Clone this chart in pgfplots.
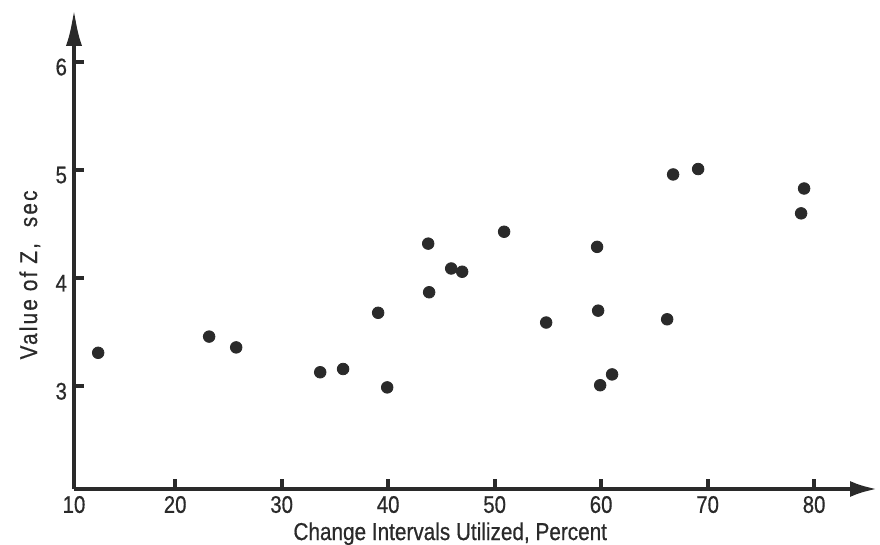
\documentclass[border=0pt]{standalone}
\usepackage{fontspec}
\setmainfont{Liberation Sans}[FakeStretch=0.85, FakeBold=0.6]
\usepackage{pgfplots}
\pgfplotsset{compat=1.18}
\usetikzlibrary{arrows.meta}
\definecolor{ink}{HTML}{2A2A2A}
\begin{document}
\begin{tikzpicture}
\begin{axis}[
  at={(0,0)}, anchor=south west,
  scale only axis, width=402pt, height=240.5pt,
  xmin=10.5, xmax=86, ymin=2.05, ymax=6.5,
  axis lines=left,
  x axis line style={line width=2.3pt, draw=ink, -{Latex[length=14pt,width=8pt]}},
  y axis line style={line width=2.3pt, draw=ink, -{Latex[length=19pt,width=8pt]}},
  xtick={10.5,20,30,40,50,60,70,80},
  xticklabels={10,20,30,40,50,60,70,80},
  ytick={3,4,5,6},
  tick align=inside,
  major tick length=5pt,
  tick style={line width=2pt, draw=ink},
  font=\fontsize{12.2}{14}\selectfont,
  ticklabel style={font=\fontsize{12}{14}\selectfont, text=ink},
  yticklabel style={yshift=-2.5pt},
  /pgf/number format/assume math mode=true,
  xlabel={Change Intervals Utilized, Percent},
  ylabel={\addfontfeature{LetterSpace=9}Value of Z,~~sec},
  xlabel style={at={(axis description cs:0.468,-0.093)}, anchor=center, text=ink},
  ylabel style={at={(axis description cs:-0.055,0.445)}, anchor=center, text=ink},
]
\addplot[only marks, mark=*, mark size=2.9pt, mark options={fill=ink, draw=ink}] coordinates {
(12.77,3.31) (23.19,3.46) (25.73,3.36) (33.62,3.13) (35.77,3.16)
(39.06,3.68) (39.91,2.99) (43.76,4.32) (43.85,3.87) (45.92,4.09)
(46.95,4.06) (50.89,4.43) (54.84,3.59) (59.62,4.29) (59.72,3.70)
(59.91,3.01) (61.03,3.11) (66.20,3.62) (66.76,4.96) (69.11,5.01)
(78.78,4.60) (79.06,4.83)
};
\end{axis}
\pgfresetboundingbox
\path[use as bounding box] (-37pt,-28pt) rectangle (403pt,244.5pt);
\end{tikzpicture}
\end{document}
